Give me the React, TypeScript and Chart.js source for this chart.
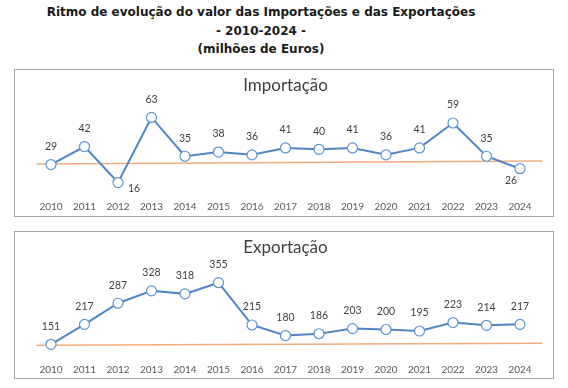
import React, { useEffect, useRef } from "react";
import { Chart, registerables } from "chart.js";

Chart.register(...registerables);

const years = [2010, 2011, 2012, 2013, 2014, 2015, 2016, 2017, 2018, 2019, 2020, 2021, 2022, 2023, 2024];
const importValues = [29, 42, 16, 63, 35, 38, 36, 41, 40, 41, 36, 41, 59, 35, 26];
const exportValues = [151, 217, 287, 328, 318, 355, 215, 180, 186, 203, 200, 195, 223, 214, 217];
const trendX = [2009.57, 2024.66];
const importTrendY = [29.4, 31.55];
const exportTrendY = [147.7, 154.3];

const titleLines = [
  "Ritmo de evolução do valor das Importações e das Exportações",
  "- 2010-2024 -",
  "(milhões de Euros)",
];

type PanelProps = {
  title: string;
  values: number[];
  trendY: number[];
  yMin: number;
  yMax: number;
  labelPos: Record<number, string>;
  tickPad: number;
};

function makeLabelPlugin(labelPos: Record<number, string>) {
  return {
    id: "pointLabels",
    afterDatasetsDraw(chart: any) {
      const meta = chart.getDatasetMeta(0);
      const data = chart.data.datasets[0].data as any[];
      const ctx = chart.ctx;
      ctx.save();
      ctx.font = "10.5px Lato";
      ctx.fillStyle = "#404040";
      ctx.textAlign = "center";
      ctx.textBaseline = "middle";
      meta.data.forEach((pt: any, i: number) => {
        const pos = labelPos[i] || "above";
        let dx = 0;
        let dy = -18;
        if (pos === "right") {
          dx = 16;
          dy = 6;
        } else if (pos === "below") {
          dx = -9;
          dy = 12;
        }
        ctx.fillText(String(data[i].y), pt.x + dx, pt.y + dy);
      });
      ctx.restore();
    },
  };
}

function Panel({ title, values, trendY, yMin, yMax, labelPos, tickPad }: PanelProps) {
  const ref = useRef<HTMLCanvasElement | null>(null);
  useEffect(() => {
    if (!ref.current) return;
    const chart = new Chart(ref.current, {
      type: "line",
      data: {
        datasets: [
          {
            data: years.map((y, i) => ({ x: y, y: values[i] })),
            borderColor: "#4f86c6",
            borderWidth: 2,
            pointRadius: 5,
            pointBackgroundColor: "#ffffff",
            pointBorderColor: "#5b93d3",
            pointBorderWidth: 1.2,
            tension: 0,
          },
          {
            data: trendX.map((x, i) => ({ x, y: trendY[i] })),
            borderColor: "#f2ad7e",
            borderWidth: 1.6,
            pointRadius: 0,
            clip: false as any,
          },
        ],
      },
      options: {
        responsive: false,
        animation: false,
        devicePixelRatio: 1,
        layout: { padding: { left: 19.25, right: 16.25, top: 0, bottom: 0 } },
        plugins: {
          legend: { display: false },
          tooltip: { enabled: false },
          title: {
            display: true,
            text: title,
            color: "#404040",
            font: { family: "Lato", size: 17, weight: "normal" },
            padding: { top: 5, bottom: 10 },
          },
        },
        scales: {
          x: {
            type: "linear",
            min: 2009.5,
            max: 2024.5,
            grid: { display: false, drawTicks: false },
            border: { display: false },
            ticks: {
              color: "#595959",
              font: { family: "Lato", size: 10 },
              padding: tickPad,
              maxRotation: 0,
              autoSkip: false,
              callback: (v: any) => String(v),
            },
            afterBuildTicks: (axis: any) => {
              axis.ticks = years.map((v) => ({ value: v }));
            },
            afterFit: (s: any) => {
              s.height = 22;
            },
          },
          y: { display: false, min: yMin, max: yMax },
        },
      },
      plugins: [makeLabelPlugin(labelPos)],
    } as any);
    return () => chart.destroy();
  }, []);
  return <canvas ref={ref} width={538} height={146} style={{ display: "block", width: 538, height: 146 }} />;
}

export default function App() {
  const boxStyle: React.CSSProperties = {
    position: "absolute",
    left: 14,
    width: 540,
    height: 148,
    border: "1px solid #a6a6a6",
    boxSizing: "border-box",
    background: "#ffffff",
  };
  return (
    <div style={{ position: "absolute", left: 0, top: 0, width: 568, height: 388, background: "#ffffff" }}>
      <div
        style={{
          position: "absolute",
          left: 0,
          top: 3,
          width: 522,
          textAlign: "center",
          fontFamily: "'DejaVu Sans', sans-serif",
          fontWeight: "bold",
          fontSize: 12,
          lineHeight: "18.6px",
          color: "#1a1a1a",
        }}
      >
        {titleLines.map((t) => (
          <div key={t}>{t}</div>
        ))}
      </div>
      <div style={{ ...boxStyle, top: 69 }}>
        <Panel
          title="Importação"
          values={importValues}
          trendY={importTrendY}
          yMin={7.73}
          yMax={71.7}
          labelPos={{ 2: "right", 14: "below" }}
          tickPad={7}
        />
      </div>
      <div style={{ ...boxStyle, top: 231 }}>
        <Panel
          title="Exportação"
          values={exportValues}
          trendY={exportTrendY}
          yMin={112.3}
          yMax={405.6}
          labelPos={{}}
          tickPad={8}
        />
      </div>
    </div>
  );
}
